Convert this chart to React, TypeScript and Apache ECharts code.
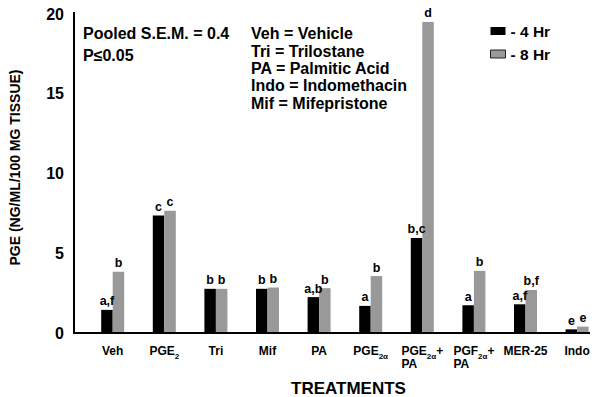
import React, { useEffect, useRef } from "react";
import * as echarts from "echarts";

const FONT = '"Liberation Sans", Arial, Helvetica, sans-serif';

const categories = ["Veh", "PGE2", "Tri", "Mif", "PA", "PGE2α", "PGE2α+PA", "PGF2α+PA", "MER-25", "Indo"];
const categoryLabels = [
  "Veh",
  "PGE{sub|2}",
  "Tri",
  "Mif",
  "PA",
  "PGE{sub|2α}",
  "PGE{sub|2α}+\n{l|PA}",
  "PGF{sub|2α}+\n{l|PA}",
  "MER-25",
  "Indo",
];
const hr4 = [1.45, 7.36, 2.77, 2.77, 2.25, 1.7, 5.96, 1.74, 1.8, 0.23];
const hr8 = [3.84, 7.67, 2.77, 2.85, 2.81, 3.57, 19.5, 3.9, 2.7, 0.4];
const hr4Letters = ["a,f", "c", "b", "b", "a,b", "a", "b,c", "a", "a,f", "e"];
const hr8Letters = ["b", "c", "b", "b", "b", "b", "d", "b", "b,f", "e"];
const yTicks = { min: 0, max: 20, interval: 5 };
const xRange = { min: -0.75, max: categories.length - 0.75 };
const seriesNames = ["- 4 Hr", "- 8 Hr"];
const noteLeft = "Pooled S.E.M. = 0.4\nP≤0.05";
const noteRight = "Veh = Vehicle\nTri = Trilostane\nPA = Palmitic Acid\nIndo = Indomethacin\nMif = Mifepristone";

export default function App() {
  const ref = useRef<HTMLDivElement>(null);
  useEffect(() => {
    document.body.style.margin = "0";
    if (!ref.current) return;
    const chart = echarts.init(ref.current, null, { renderer: "svg" });
    const labelStyle = {
      show: true,
      position: "top",
      distance: 2,
      fontSize: 12.5,
      fontWeight: "bold",
      color: "#000",
      fontFamily: FONT,
    };
    chart.setOption({
      animation: false,
      backgroundColor: "#fff",
      grid: {
        left: 74,
        right: 6,
        top: 14,
        bottom: 64,
        containLabel: false,
        outerBoundsMode: "none",
      },
      legend: {
        orient: "vertical",
        left: 485,
        top: 18,
        itemWidth: 15,
        itemHeight: 8,
        itemGap: 7,
        icon: "rect",
        textStyle: { fontSize: 15.5, fontWeight: "bold", color: "#000", fontFamily: FONT, lineHeight: 14 },
        data: [
          { name: seriesNames[0], itemStyle: { color: "#000" } },
          { name: seriesNames[1], itemStyle: { color: "#999", borderColor: "#222", borderWidth: 1 } },
        ],
      },
      xAxis: {
        type: "value",
        min: xRange.min,
        max: xRange.max,
        splitLine: { show: false },
        axisTick: { show: false },
        axisLine: { show: false },
        axisLabel: {
          customValues: categories.map((_, i) => i),
          formatter: (v: number) => categoryLabels[Math.round(v)] ?? "",
          fontSize: 12,
          fontWeight: "bold",
          color: "#000",
          fontFamily: FONT,
          margin: 10,
          lineHeight: 16,
          rich: {
            sub: { fontSize: 8, fontWeight: "bold", color: "#000", fontFamily: FONT, padding: [10, 0, 0, 0] },
            l: { fontSize: 12, fontWeight: "bold", color: "#000", fontFamily: FONT, align: "left", lineHeight: 10 },
          },
        },
        name: "TREATMENTS",
        nameLocation: "middle",
        nameGap: 47,
        nameTextStyle: { fontSize: 17, fontWeight: "bold", color: "#000", fontFamily: FONT, padding: [0, 0, 0, 33] },
      },
      yAxis: {
        type: "value",
        min: yTicks.min,
        max: yTicks.max,
        interval: yTicks.interval,
        splitLine: { show: false },
        axisTick: { show: false },
        axisLine: { show: false },
        axisLabel: { fontSize: 16, fontWeight: "bold", color: "#000", fontFamily: FONT, margin: 10 },
        name: "PGE (NG/ML/100 MG TISSUE)",
        nameLocation: "middle",
        nameGap: 52,
        nameTextStyle: { fontSize: 14, fontWeight: "bold", color: "#000", fontFamily: FONT, padding: [0, 0, 0, 12] },
      },
      series: [
        {
          name: seriesNames[0],
          type: "bar",
          barWidth: 11.5,
          barGap: "0%",
          itemStyle: { color: "#000" },
          label: { ...labelStyle, formatter: (p: any) => hr4Letters[p.dataIndex] },
          data: hr4.map((v, i) => [i, v]),
        },
        {
          name: seriesNames[1],
          type: "bar",
          barWidth: 11.5,
          barGap: "0%",
          itemStyle: { color: "#999" },
          label: { ...labelStyle, formatter: (p: any) => hr8Letters[p.dataIndex] },
          data: hr8.map((v, i) => [i, v]),
        },
        {
          name: "axes",
          type: "custom",
          silent: true,
          clip: false,
          z: 10,
          data: [[xRange.min, yTicks.min, xRange.max, yTicks.max]],
          renderItem: (params: any, api: any) => {
            const a = api.coord([api.value(0), api.value(1)]);
            const b = api.coord([api.value(2), api.value(3)]);
            const fill = { fill: "#000" };
            return {
              type: "group",
              children: [
                { type: "rect", shape: { x: a[0] - 1, y: b[1] - 2, width: 2, height: a[1] - b[1] + 3 }, style: fill },
                { type: "rect", shape: { x: a[0] - 1, y: a[1] - 1, width: b[0] - a[0] + 1, height: 2 }, style: fill },
              ],
            };
          },
        },
      ],
      graphic: [
        {
          id: "noteLeft",
          type: "text",
          left: 83,
          top: 23,
          style: { text: noteLeft, font: `bold 16px ${FONT}`, lineHeight: 21.5, fill: "#000" },
        },
        {
          id: "noteRight",
          type: "text",
          left: 251,
          top: 25,
          style: { text: noteRight, font: `bold 16px ${FONT}`, lineHeight: 17.4, fill: "#000" },
        },
      ],
    });
    return () => chart.dispose();
  }, []);
  return <div ref={ref} style={{ width: 596, height: 397 }} />;
}
